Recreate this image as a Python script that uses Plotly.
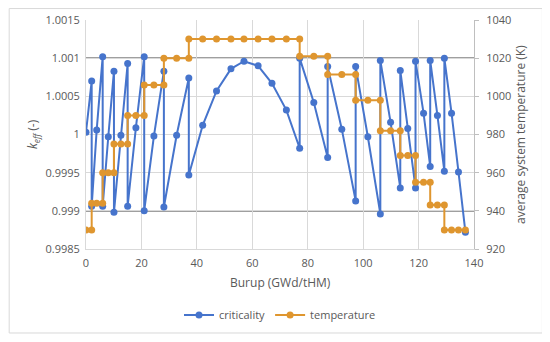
import plotly.graph_objects as go

# ---- data ----
burnup = [0, 2.05, 2.05, 3.86, 6.02, 6.02, 8.04, 10.09, 10.09, 12.6, 15.03, 15.03,
          18.0, 21.0, 21.0, 24.5, 28.1, 28.1, 32.7, 37.1, 37.1, 42.1, 47.1, 52.3,
          57.0, 62.1, 67.1, 72.3, 77.1, 77.1, 82.2, 87.2, 87.2, 92.3, 97.3, 97.3,
          101.7, 106.2, 106.2, 109.9, 113.4, 113.4, 116.1, 118.9, 118.9, 121.8,
          124.2, 124.2, 126.8, 129.3, 129.3, 131.9, 134.4, 136.9]

criticality = [1.00003, 1.0007, 0.99906, 1.00006, 1.00102, 0.99906, 0.99997, 1.00083,
               0.99898, 0.99999, 1.00093, 0.99906, 1.00009, 1.00102, 0.99900, 0.99998,
               1.00083, 0.99905, 0.99999, 1.00074, 0.99947, 1.00012, 1.00057, 1.00086,
               1.00096, 1.00090, 1.00067, 1.00032, 0.99982, 1.00100, 1.00042, 0.99970,
               1.00089, 1.00007, 0.99913, 1.00089, 0.99997, 0.99896, 1.00097, 1.00016,
               0.99930, 1.00084, 1.00008, 0.99930, 1.00096, 1.00028, 0.99958, 1.00097,
               1.00025, 0.99952, 1.00100, 1.00028, 0.99951, 0.99872]

temperature = [930, 930, 944, 944, 944, 960, 960, 960, 975, 975, 975, 990, 990, 990,
               1006, 1006, 1006, 1020, 1020, 1020, 1030, 1030, 1030, 1030, 1030, 1030,
               1030, 1030, 1030, 1021, 1021, 1021, 1011.5, 1011.5, 1011.5, 998, 998,
               998, 982, 982, 982, 969, 969, 969, 955, 955, 955, 943, 943, 943, 930,
               930, 930, 930]

keff_limits = [1.001, 0.999]
keff_ticks = [0.9985, 0.999, 0.9995, 1.0, 1.0005, 1.001, 1.0015]
keff_tick_text = ["0.9985", "0.999", "0.9995", "1", "1.0005", "1.001", "1.0015"]

BLUE = "#4674CC"
ORANGE = "#DF962F"
GRID = "#D9D9D9"
TXT = "#595959"
FONT = "Open Sans"

fig = go.Figure()
fig.add_trace(go.Scatter(x=burnup, y=criticality, name="criticality",
                         mode="lines+markers",
                         line=dict(color=BLUE, width=2),
                         marker=dict(size=7, color=BLUE)))
fig.add_trace(go.Scatter(x=burnup, y=temperature, name="temperature", yaxis="y2",
                         mode="lines+markers",
                         line=dict(color=ORANGE, width=2),
                         marker=dict(size=7, color=ORANGE)))

shapes = []
for lim in keff_limits:
    shapes.append(dict(type="line", xref="paper", x0=0, x1=1, yref="y", y0=lim, y1=lim,
                       line=dict(color="#404040", width=1.5), layer="between"))
shapes.append(dict(type="rect", xref="paper", yref="paper",
                   x0=-0.198, x1=1.1763, y0=-0.3668, y1=1.050,
                   line=dict(color=GRID, width=1)))

fig.update_layout(
    width=542, height=334,
    margin=dict(l=78, r=75.5, t=12, b=93, autoexpand=False),
    paper_bgcolor="white", plot_bgcolor="white",
    font=dict(family=FONT, size=11, color=TXT),
    showlegend=True,
    legend=dict(orientation="h", x=0.5, xanchor="center", y=-0.288, yanchor="middle",
                font=dict(size=11, color=TXT)),
    xaxis=dict(range=[0, 140], dtick=20, showgrid=True, gridcolor=GRID, gridwidth=1,
               zeroline=False, showline=True, linecolor=GRID, ticks="",
               ticklabelstandoff=4,
               tickfont=dict(size=11, color=TXT)),
    yaxis=dict(range=[0.9985, 1.0015], tickvals=keff_ticks, ticktext=keff_tick_text,
               showgrid=True, gridcolor=GRID, zeroline=False, showline=True,
               linecolor=GRID, ticks="", ticklabelstandoff=3,
               tickfont=dict(size=11, color=TXT)),
    yaxis2=dict(range=[920, 1040], dtick=20, overlaying="y", side="right",
                showgrid=False, zeroline=False, showline=True, linecolor="#BFBFBF",
                ticks="outside", ticklen=4, tickcolor="#BFBFBF", ticklabelstandoff=5,
                tickfont=dict(size=11, color=TXT)),
    shapes=shapes,
    annotations=[
        dict(text="Burup (GWd/tHM)", xref="paper", yref="paper", x=0.5, y=-0.147,
             showarrow=False, xanchor="center", yanchor="middle",
             font=dict(size=12, color=TXT)),
        dict(text="<i>k</i><sub><i>eff</i></sub> (-)", xref="paper", yref="paper",
             x=-0.1377, y=0.5, showarrow=False, textangle=-90,
             xanchor="center", yanchor="middle", font=dict(size=12, color=TXT)),
        dict(text="average system temperature (K)", xref="paper", yref="paper",
             x=1.1197, y=0.5, showarrow=False, textangle=-90,
             xanchor="center", yanchor="middle", font=dict(size=12, color=TXT)),
    ],
)

fig.write_html("out.html")
